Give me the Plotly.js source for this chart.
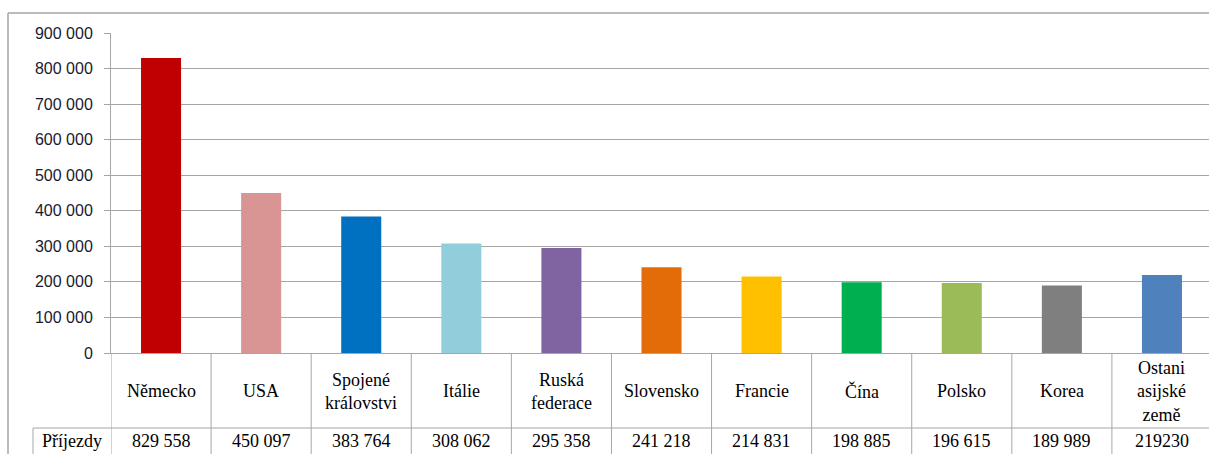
<!DOCTYPE html>
<html>
<head>
<meta charset="utf-8">
<script src="https://cdn.plot.ly/plotly-3.0.1.min.js"></script>
<style>
html,body{margin:0;padding:0;overflow:hidden;background:#fff;}
#chart{width:1230px;height:454px;}
</style>
</head>
<body>
<div id="chart"></div>
<script>
// Data
const categories = ["Německo","USA","Spojené<br>královstvi","Itálie","Ruská<br>federace","Slovensko","Francie","Čína","Polsko","Korea","Ostani<br>asijské<br>země"];
const arrivals = [829558, 450097, 383764, 308062, 295358, 241218, 214831, 198885, 196615, 189989, 219230];
const valueLabels = ["829 558","450 097","383 764","308 062","295 358","241 218","214 831","198 885","196 615","189 989","219230"];
const rowLabel = "Příjezdy";
const barColors = ["#C00000","#D99594","#0070C0","#92CDDC","#8064A2","#E36C09","#FFC000","#00B050","#9BBB59","#7F7F7F","#4F81BD"];
const yTickVals = [0,100000,200000,300000,400000,500000,600000,700000,800000,900000];
const yTickText = ["0","100 000","200 000","300 000","400 000","500 000","600 000","700 000","800 000","900 000"];

// geometry (pixels)
const W = 1230, H = 454;
const L = 111, T = 33, PW = 1101, PH = 320;
const R = W - L - PW, B = H - T - PH;
const px = x => (x - L) / PW;
const py = y => (T + PH - y) / PH;

const gridCol = "#A6A6A6";
const xIdx = categories.map((_, i) => i);

const shapes = [];
// outer border
shapes.push({type:"line", xref:"paper", yref:"paper", x0:px(8), x1:px(1230), y0:py(13), y1:py(13), line:{color:gridCol, width:1.5}});
shapes.push({type:"line", xref:"paper", yref:"paper", x0:px(8), x1:px(8), y0:py(13), y1:py(470), line:{color:gridCol, width:1.5}});
// table vertical lines at category boundaries
for (let i = 0; i <= categories.length; i++) {
  shapes.push({type:"line", xref:"x", yref:"paper", x0:i-0.5, x1:i-0.5, y0:0, y1:py(470), line:{color:gridCol, width:1}});
}
// row separator
shapes.push({type:"line", xref:"paper", yref:"paper", x0:px(33), x1:px(1230), y0:py(428), y1:py(428), line:{color:gridCol, width:1}});
// left cell line
shapes.push({type:"line", xref:"paper", yref:"paper", x0:px(33), x1:px(33), y0:py(428), y1:py(470), line:{color:gridCol, width:1}});

const annotations = [];
const tfont = {family:"Liberation Serif", size:18, color:"#000"};
categories.forEach((c, i) => {
  annotations.push({xref:"x", yref:"paper", x:i, y:py(391), text:c, showarrow:false, font:tfont, xanchor:"center", yanchor:"middle", align:"center"});
  annotations.push({xref:"x", yref:"paper", x:i, y:py(441), text:valueLabels[i], showarrow:false, font:tfont, xanchor:"center", yanchor:"middle"});
});
annotations.push({xref:"paper", yref:"paper", x:px(72), y:py(441), text:rowLabel, showarrow:false, font:tfont, xanchor:"center", yanchor:"middle"});

const trace = {
  type:"bar",
  x: xIdx,
  y: arrivals,
  width: 0.4,
  marker:{color: barColors, line:{width:0}},
  hoverinfo:"none"
};

const layout = {
  width: W, height: H,
  margin:{l:L, r:R, t:T, b:B, pad:0},
  paper_bgcolor:"#fff", plot_bgcolor:"#fff",
  showlegend:false,
  bargap:0.6,
  xaxis:{
    range:[-0.5, categories.length - 0.5],
    showticklabels:false, ticks:"", showgrid:false, zeroline:false,
    showline:true, linecolor:gridCol, linewidth:1, fixedrange:true
  },
  yaxis:{
    range:[0, 900000],
    tickvals: yTickVals, ticktext: yTickText,
    showgrid:true, gridcolor:gridCol, gridwidth:1,
    zeroline:false,
    showline:true, linecolor:gridCol, linewidth:1,
    ticks:"outside", ticklen:6, tickcolor:gridCol,
    ticklabelstandoff: 8,
    tickfont:{family:"Liberation Sans", size:16, color:"#1a1a2e"},
    fixedrange:true
  },
  shapes: shapes,
  annotations: annotations
};

Plotly.newPlot("chart", [trace], layout, {displayModeBar:false, staticPlot:true});
</script>
</body>
</html>
